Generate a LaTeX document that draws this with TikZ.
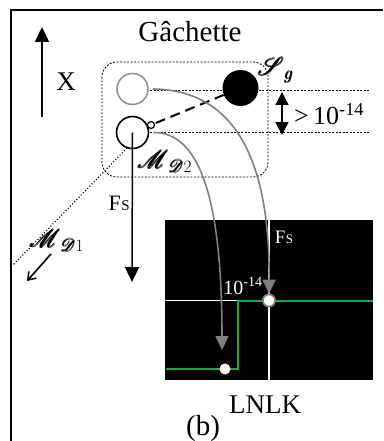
\documentclass[tikz,border=0pt]{standalone}
\usepackage{amsmath}
\usepackage{mathrsfs}
\usepackage{fontspec}
\setmainfont{Liberation Serif}
\usetikzlibrary{arrows.meta}
\definecolor{grn}{RGB}{20,170,70}
\definecolor{gcurve}{RGB}{128,128,128}
\begin{document}
\begin{tikzpicture}[x=1pt,y=-1pt,
  fine/.style={line width=0.8pt, dash pattern=on 2pt off 1.5pt},
  blackarrow/.style={line width=1.5pt, -{Triangle[width=14pt,length=15pt]}},
  grayarrow/.style={gcurve, line width=1.6pt, -{Triangle[width=13pt,length=14pt]}},
  lbl/.style={inner sep=0, font=\fontsize{27}{30}\selectfont},
  scr/.style={inner sep=0, font=\fontsize{25}{28}\selectfont}]
\useasboundingbox (0,0) rectangle (383,441);
% frame
\draw[line width=2pt] (11,441) -- (11,10) -- (383,10);
% title
\node[lbl, anchor=base, font=\fontsize{29}{32}\selectfont] (title) at (190,42) {Gâchette};
% X arrow
\coordinate (xb) at (42,117);
\coordinate (xt) at (42,27);
\draw[blackarrow] (xb) -- (xt);
\node[lbl] (xl) at (66,82) {X};
% dashed group box
\draw[fine, rounded corners=15pt] (102,62) rectangle (268,177);
% horizontal dotted lines
\coordinate (h1a) at (150,90); \coordinate (h1b) at (370,90);
\coordinate (h2a) at (150,132); \coordinate (h2b) at (370,132);
\draw[fine] (h1a) -- (h1b);
\draw[fine] (h2a) -- (h2b);
% double arrow
\coordinate (da) at (282,92); \coordinate (db) at (282,135);
\draw[line width=1.5pt, {Triangle[width=13pt,length=13pt]}-{Triangle[width=13pt,length=13pt]}] (da) -- (db);
\node[inner sep=0, anchor=west, font=\fontsize{26}{30}\selectfont] (gt) at (294,114) {>\,10\textsuperscript{-14}};
% circles
\node[circle, draw=gcurve!90, line width=1.5pt, minimum size=31pt, inner sep=0] (g) at (132.5,89) {};
\node[circle, fill=black, minimum size=36pt, inner sep=0] (s) at (240.5,88) {};
\node[circle, draw, line width=1.6pt, minimum size=32pt, inner sep=0] (m) at (132.5,132.5) {};
\node[circle, draw, line width=1.2pt, fill=white, minimum size=7pt, inner sep=0] (sm) at (151,125) {};
\draw[line width=2pt, dash pattern=on 10pt off 6pt, shorten <=1pt] (sm) -- (s);
\node[scr] (sg) at (276,70) {$\pmb{\mathscr{S}}_{\pmb{g}}$};
\node[scr] (md2) at (165,161) {$\pmb{\mathscr{M}}_{\pmb{\mathscr{D}}2}$};
% F_S arrow
\coordinate (ft) at (132,282);
\draw[blackarrow] (m.center) -- (ft);
\node[inner sep=0, anchor=base east, font=\fontsize{22}{24}\selectfont] (fs) at (130,210) {F\kern0.5pt{\fontsize{15}{16}\selectfont S}};
% dotted line to M_D1
\coordinate (d2) at (127,148);
\coordinate (d1) at (13,265);
\draw[dotted, line width=1.1pt] (d2) -- (d1);
\node[scr] (md1) at (57,240) {$\pmb{\mathscr{M}}_{\pmb{\mathscr{D}}1}$};
\coordinate (m1a) at (51,254);
\coordinate (m1b) at (27,281);
\draw[line width=1.6pt, -{Straight Barb[length=7pt,width=10pt]}] (m1a) -- (m1b);
% panel
\node[fill=black, minimum width=208pt, minimum height=160pt, inner sep=0] (panel) at (269,300) {};
\draw[white, line width=1.5pt] (panel.west |- 0,300.5) -- (panel.east |- 0,300.5);
\draw[white, line width=1.5pt] (panel.north) -- (panel.south);
\coordinate (s1) at (165.5,369);
\coordinate (s2) at (237.5,369);
\coordinate (s3) at (237.5,300.5);
\coordinate (s4) at (372.5,300.5);
\draw[grn, line width=2pt] (s1) -- (s2) -- (s3) -- (s4);
\node[inner sep=0, text=white, font=\fontsize{19}{20}\selectfont] (fsw) at (284,237) {F\kern0.5pt{\fontsize{13}{14}\selectfont S}};
\node[inner sep=0, text=white, font=\fontsize{20}{22}\selectfont] (pw) at (243,286) {10\textsuperscript{-14}};
% dots
\node[circle, fill=white, minimum size=11pt, inner sep=0] (wd) at (225,369) {};
\node[circle, fill=white, draw=gcurve, line width=1.6pt, minimum size=12pt, inner sep=0] (cd) at (269,300.5) {};
% gray curves
\coordinate (e2) at (222,350);
\draw[grayarrow] (g.east) ++(4,0) .. controls (235,90) and (270,160) .. (cd.north);
\draw[grayarrow] (m.east) ++(4,0) .. controls (200,132) and (222,200) .. (e2);
\node[circle, fill=white, draw=gcurve, line width=1.6pt, minimum size=12pt, inner sep=0] at (cd) {};
% bottom labels
\node[lbl, anchor=base] (lnlk) at (265,413) {LNLK};
\node[lbl, anchor=base, font=\fontsize{29}{32}\selectfont] (b) at (203,435) {(b)};
\end{tikzpicture}
\end{document}
